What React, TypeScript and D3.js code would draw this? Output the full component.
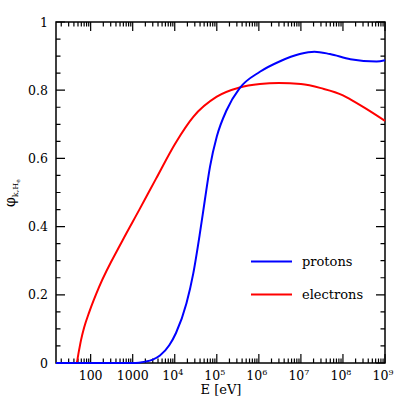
import React from 'react';
import * as d3 from 'd3';

// Proton curve (energy in eV, phi)
const protonE = [15, 1000, 1400, 2000, 3000, 4450, 7400, 1.07e4, 1.9e4, 2.76e4, 3.96e4, 5.2e4, 6.9e4, 1e5, 1.72e5, 3.5e5, 1.06e6, 3.2e6, 9.4e6, 2.1e7, 4.9e7, 1.5e8, 6.3e8, 1e9];
const protonPhi = [0, 0, 0.001, 0.004, 0.01, 0.022, 0.052, 0.088, 0.175, 0.263, 0.38, 0.478, 0.576, 0.664, 0.742, 0.806, 0.854, 0.885, 0.906, 0.913, 0.906, 0.891, 0.884, 0.888];

// Electron curve
const electronE = [15, 46, 52, 59, 70, 93, 160, 577, 1430, 3570, 1.03e4, 2.76e4, 1e5, 3.5e5, 1.06e6, 3e6, 1e7, 3e7, 1e8, 1.5e8, 3.3e8, 1e9];
const electronPhi = [0, 0, 0.032, 0.067, 0.104, 0.15, 0.224, 0.36, 0.449, 0.54, 0.644, 0.722, 0.781, 0.808, 0.818, 0.821, 0.818, 0.806, 0.785, 0.773, 0.748, 0.71];

const xMajor = [100, 1000, 1e4, 1e5, 1e6, 1e7, 1e8, 1e9];
const xLabelBase = ['100', '1000', '10', '10', '10', '10', '10', '10'];
const xLabelExp = ['', '', '4', '5', '6', '7', '8', '9'];
const yMajor = [0, 0.2, 0.4, 0.6, 0.8, 1];
const yLabels = ['0', '0.2', '0.4', '0.6', '0.8', '1'];

const W = 407;
const H = 407;
const left = 56, right = 385, top = 22, bottom = 363;

const x = d3.scaleLog().domain([15, 1e9]).range([left, right]);
const y = d3.scaleLinear().domain([0, 1]).range([bottom, top]);

// minor ticks on log axis: 2..9 within each decade
const xMinor: number[] = [];
for (let p = 1; p <= 8; p++) {
  for (let m = 2; m <= 9; m++) {
    const v = m * Math.pow(10, p);
    if (v > 15 && v < 1e9) xMinor.push(v);
  }
}
const yMinor = d3.range(0, 1.0001, 0.05).filter(v => Math.abs(v * 5 - Math.round(v * 5)) > 1e-6);

const lineGen = d3.line<[number, number]>()
  .x(d => x(d[0]))
  .y(d => y(d[1]))
  .curve(d3.curveMonotoneX);

const protonPts = protonE.map((e, i) => [e, protonPhi[i]] as [number, number]);
const electronPts = electronE.map((e, i) => [e, electronPhi[i]] as [number, number]);

const font = '"DejaVu Serif", "Liberation Serif", serif';
const MAJ = 9, MIN = 4.5;

// tick marks, all four sides, pointing inward
const tickPath = d3.path();
xMajor.forEach(v => {
  tickPath.moveTo(x(v), bottom); tickPath.lineTo(x(v), bottom - MAJ);
  tickPath.moveTo(x(v), top); tickPath.lineTo(x(v), top + MAJ);
});
xMinor.forEach(v => {
  tickPath.moveTo(x(v), bottom); tickPath.lineTo(x(v), bottom - MIN);
  tickPath.moveTo(x(v), top); tickPath.lineTo(x(v), top + MIN);
});
yMajor.forEach(v => {
  tickPath.moveTo(left, y(v)); tickPath.lineTo(left + MAJ, y(v));
  tickPath.moveTo(right, y(v)); tickPath.lineTo(right - MAJ, y(v));
});
yMinor.forEach(v => {
  tickPath.moveTo(left, y(v)); tickPath.lineTo(left + MIN, y(v));
  tickPath.moveTo(right, y(v)); tickPath.lineTo(right - MIN, y(v));
});

export default function App() {
  return (
    <div style={{ position: 'fixed', left: 0, top: 0 }}>
      <svg width={W} height={H} style={{ display: 'block', background: '#fff' }}>
        <rect x={left} y={top} width={right - left} height={bottom - top} fill="none" stroke="#000" strokeWidth={1.5} />
        <path d={tickPath.toString()} fill="none" stroke="#000" strokeWidth={1.2} />

        {/* curves */}
        <path d={lineGen(electronPts) || ''} fill="none" stroke="#ff0000" strokeWidth={2} />
        <path d={lineGen(protonPts) || ''} fill="none" stroke="#0000ff" strokeWidth={2} />

        {/* tick labels */}
        <g style={{ fontFamily: font, fontSize: 12.5 }} fill="#000">
          {yMajor.map((v, i) => (
            <text key={'yl' + v} x={48} y={y(v) + 4.5} textAnchor="end">{yLabels[i]}</text>
          ))}
          {xMajor.map((v, i) => (
            <text key={'xl' + v} x={x(v) + (xLabelExp[i] ? -2 : 0)} y={380} textAnchor="middle">
              {xLabelBase[i]}
              {xLabelExp[i] && <tspan style={{ fontSize: 8 }} dy={-5}>{xLabelExp[i]}</tspan>}
            </text>
          ))}
        </g>

        {/* axis titles */}
        <text x={221} y={394} textAnchor="middle" style={{ fontFamily: font, fontSize: 13 }}>E [eV]</text>
        <text transform="translate(15,207) rotate(-90)" style={{ fontFamily: font, fontSize: 14 }}>
          φ
          <tspan style={{ fontSize: 8 }} dy={3}>k,H</tspan>
          <tspan style={{ fontSize: 6 }} dy={2}>e</tspan>
        </text>

        {/* legend */}
        <line x1={251} x2={292} y1={261.5} y2={261.5} stroke="#0000ff" strokeWidth={2} />
        <text x={302} y={265.5} style={{ fontFamily: font, fontSize: 13 }}>protons</text>
        <line x1={251} x2={292} y1={294.5} y2={294.5} stroke="#ff0000" strokeWidth={2} />
        <text x={302} y={298.5} style={{ fontFamily: font, fontSize: 13 }}>electrons</text>
      </svg>
    </div>
  );
}
